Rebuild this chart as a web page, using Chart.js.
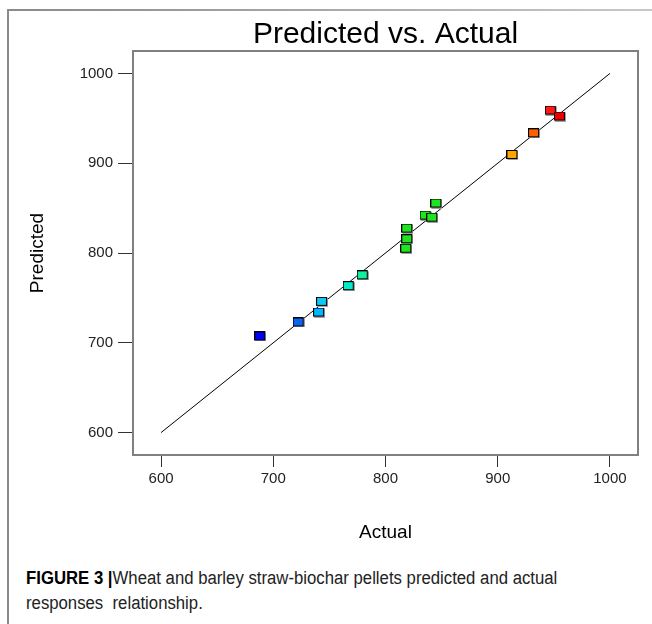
<!DOCTYPE html>
<html>
<head>
<meta charset="utf-8">
<script src="https://cdn.jsdelivr.net/npm/chart.js@4"></script>
<style>
  body { margin: 0; background: #fff; }
  #wrap { position: relative; width: 652px; height: 624px; overflow: hidden; }
  #frameTop { position: absolute; left: 7px; top: 9px; width: 645px; height: 2px;
              background: linear-gradient(to right, #8a8a8a, #c8c8c8); }
  #frameLeft { position: absolute; left: 7px; top: 9px; width: 2px; height: 615px; background: #8a8a8a; }
  #myChart { position: absolute; left: 0; top: 0; }
  #caption { position: absolute; left: 26px; top: 566px; width: 660px;
             font-family: "Liberation Sans", Arial, sans-serif;
             font-size: 18px; line-height: 25px; color: #222;
             transform: scaleX(0.93); transform-origin: left top; }
  #caption b { color: #000; }
</style>
</head>
<body>
<div id="wrap">
  <div id="frameTop"></div>
  <div id="frameLeft"></div>
  <canvas id="myChart" width="652" height="560"></canvas>
  <div id="caption"><b>FIGURE 3 |</b>Wheat and barley straw-biochar pellets predicted and actual<br>responses&nbsp; relationship.</div>
</div>
<script>
// runs: actual vs predicted response
const actual    = [688.4, 722.6, 740.8, 743.5, 767.2, 779.7, 818.5, 819.4, 819.4, 835.7, 841.7, 845.3, 913.1, 932.4, 947.3, 955.4];
const predicted = [707.0, 722.6, 733.7, 745.6, 763.1, 775.1, 804.8, 815.3, 827.2, 841.7, 839.4, 855.1, 909.2, 933.3, 958.7, 952.0];
const pointColors = ['#0000ff', '#0a64f0', '#00b8ff', '#10c8f8', '#00ecc8', '#10f0a0', '#1ee61e', '#1ee61e',
                     '#1ee61e', '#1ee61e', '#1ee61e', '#1ee61e', '#ffa500', '#ff6000', '#ff1a1a', '#f00000'];
const fitRange = [600, 1000];
const tickValues = [600, 700, 800, 900, 1000];
const chartTitle = 'Predicted vs. Actual';

// little square marker with a grey drop edge
function squareMarker(color) {
    const c = document.createElement('canvas');
    c.width = 12;
    c.height = 10;
    const g = c.getContext('2d');
    g.fillStyle = '#a0a0a0';
    g.fillRect(1, 1, 11, 9);
    g.fillStyle = color;
    g.fillRect(0.5, 0.5, 10, 8);
    g.strokeStyle = '#000';
    g.lineWidth = 1;
    g.strokeRect(0.5, 0.5, 10, 8);
    return c;
}

// plot box + title centred over the plot area
const framePlugin = {
    id: 'frame',
    beforeDatasetsDraw(chart) {
        const {ctx, chartArea: a} = chart;
        ctx.save();
        ctx.strokeStyle = '#808080';
        ctx.lineWidth = 2;
        ctx.strokeRect(a.left, a.top, a.right - a.left, a.bottom - a.top);
        ctx.restore();
    },
    afterDraw(chart) {
        const {ctx, chartArea: a} = chart;
        ctx.save();
        ctx.fillStyle = '#000';
        ctx.font = '30px "Liberation Sans", Arial, sans-serif';
        ctx.textAlign = 'center';
        ctx.textBaseline = 'middle';
        ctx.fillText(chartTitle, (a.left + a.right) / 2, 35);
        ctx.restore();
    }
};

const tickFont = {family: 'Liberation Sans', size: 15};

const ctx = document.getElementById('myChart').getContext('2d');
const myChart = new Chart(ctx, {
    type: 'scatter',
    data: {
        datasets: [{
            type: 'line',
            data: fitRange.map(v => ({x: v, y: v})),
            borderColor: '#000',
            borderWidth: 1,
            pointRadius: 0,
            order: 2
        }, {
            data: actual.map((v, i) => ({x: v, y: predicted[i]})),
            pointStyle: pointColors.map(squareMarker),
            order: 1
        }]
    },
    options: {
        responsive: false,
        animation: false,
        devicePixelRatio: 1,
        layout: {
            padding: {left: 0, right: 14, top: 51, bottom: 0}
        },
        plugins: {
            legend: {
              display: false
            },
            tooltip: {
              enabled: false
            }
          },
        scales: {
            x: {
              type: 'linear',
              min: 575,
              max: 1025,
              afterBuildTicks: s => { s.ticks = tickValues.map(v => ({value: v})); },
              afterFit: s => { s.height = 105; },
              border: {display: false},
              grid: {
                drawOnChartArea: false,
                tickLength: 12,
                tickColor: '#333'
              },
              ticks: {
                color: '#222',
                padding: 3,
                maxRotation: 0,
                font: tickFont,
                callback: v => String(v)
              },
              title: {
                display: true,
                text: 'Actual',
                color: '#000',
                font: {family: 'Liberation Sans', size: 19},
                padding: {bottom: 16}
              }
            },
            y: {
              type: 'linear',
              min: 575,
              max: 1025,
              afterBuildTicks: s => { s.ticks = tickValues.map(v => ({value: v})); },
              afterFit: s => { s.width = 133; },
              border: {display: false},
              grid: {
                 drawOnChartArea: false,
                 tickLength: 15,
                 tickColor: '#333'
              },
              ticks: {
                color: '#222',
                padding: 5,
                font: tickFont,
                callback: v => String(v)
              },
              title: {
                display: true,
                text: 'Predicted',
                color: '#000',
                font: {family: 'Liberation Sans', size: 19},
                padding: {top: 26}
              }
            }
          }
    },
    plugins: [framePlugin]
});
</script>
</body>
</html>
